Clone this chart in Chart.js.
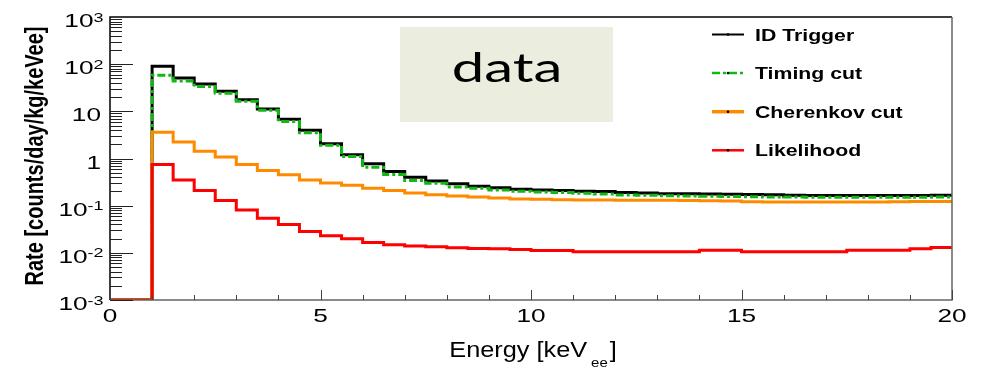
<!DOCTYPE html>
<html>
<head>
<meta charset="utf-8">
<script src="https://cdn.jsdelivr.net/npm/chart.js@4.4.1/dist/chart.umd.min.js"></script>
<style>
  html, body { margin: 0; padding: 0; background: #fff; }
  #wrap { width: 986px; height: 369px; }
</style>
</head>
<body>
<div id="wrap"><canvas id="rateChart" width="986" height="369"></canvas></div>
<script>
// Bin edges (keVee), 0.5 keV wide bins
const binEdges = [0, 0.5, 1, 1.5, 2, 2.5, 3, 3.5, 4, 4.5, 5, 5.5, 6, 6.5, 7, 7.5, 8, 8.5, 9, 9.5,
  10, 10.5, 11, 11.5, 12, 12.5, 13, 13.5, 14, 14.5, 15, 15.5, 16, 16.5, 17, 17.5, 18, 18.5, 19, 19.5, 20];

// Rates per bin [counts/day/kg/keVee]
const idTrigger = [0, 0, 90, 51, 38, 26.7, 17.5, 11.2, 6.8, 3.95, 2.05, 1.2, 0.77, 0.53, 0.4, 0.335,
  0.29, 0.257, 0.24, 0.224, 0.216, 0.209, 0.203, 0.2, 0.19, 0.185, 0.18, 0.178, 0.176, 0.174,
  0.172, 0.17, 0.166, 0.165, 0.165, 0.164, 0.165, 0.164, 0.165, 0.166];
const timingCut = [0, 0, 58, 44, 33.5, 24.3, 16.3, 10.5, 6.1, 3.5, 1.9, 1.1, 0.65, 0.46, 0.34, 0.3,
  0.25, 0.233, 0.216, 0.203, 0.195, 0.19, 0.183, 0.177, 0.169, 0.166, 0.163, 0.16, 0.158, 0.156,
  0.155, 0.153, 0.152, 0.151, 0.15, 0.15, 0.15, 0.15, 0.151, 0.152];
const cherenkovCut = [0, 0, 3.6, 2.25, 1.43, 1.07, 0.745, 0.556, 0.45, 0.352, 0.304, 0.27, 0.234, 0.209,
  0.186, 0.17, 0.16, 0.153, 0.146, 0.138, 0.136, 0.133, 0.132, 0.132, 0.131, 0.13, 0.13, 0.128,
  0.127, 0.126, 0.121, 0.12, 0.12, 0.12, 0.12, 0.12, 0.12, 0.121, 0.122, 0.123];
const likelihood = [0, 0, 0.75, 0.352, 0.209, 0.128, 0.081, 0.054, 0.0397, 0.0284, 0.023, 0.02, 0.0166,
  0.0148, 0.014, 0.0134, 0.0128, 0.0124, 0.0122, 0.0118, 0.0112, 0.0112, 0.0105, 0.0105, 0.0105,
  0.0105, 0.0105, 0.0105, 0.0114, 0.0114, 0.0105, 0.0105, 0.0105, 0.0105, 0.0105, 0.0114, 0.0114,
  0.0114, 0.0122, 0.0129];

const seriesLabels = ['ID Trigger', 'Timing cut', 'Cherenkov cut', 'Likelihood'];

// Axes
const xMin = 0, xMax = 20;
const yMin = 1e-3, yMax = 1e3;
const xTickValues = [0, 5, 10, 15, 20];
const xTickLabels = ['0', '5', '10', '15', '20'];
const yTickValues = [1e-3, 1e-2, 1e-1, 1, 10, 100, 1000];
const yTickLabels = ['10^-3', '10^-2', '10^-1', '1', '10', '10^2', '10^3'];
const xTitle = ['Energy [keV', 'ee', ']'];
const yTitle = 'Rate [counts/day/kg/keVee]';
const boxText = 'data';

const FONT = '"Liberation Sans", Arial, Helvetica, sans-serif';

// histogram -> step points (empty bins sit on the axis floor, like ROOT)
function toSteps(values) {
  const pts = [];
  for (let i = 0; i < values.length; i++) {
    const y = values[i] > 0 ? values[i] : yMin;
    pts.push({ x: binEdges[i], y: y });
    pts.push({ x: binEdges[i + 1], y: y });
  }
  return pts;
}

// the source image is stretched horizontally, so text gets an x scale
function drawText(ctx, str, x, y, font, sx, align) {
  ctx.save();
  ctx.font = font;
  ctx.translate(x, y);
  ctx.scale(sx, 1);
  ctx.textAlign = align || 'left';
  ctx.textBaseline = 'alphabetic';
  ctx.fillStyle = '#000';
  ctx.fillText(str, 0, 0);
  ctx.restore();
}
function textWidth(ctx, str, font, sx) {
  ctx.save();
  ctx.font = font;
  const w = ctx.measureText(str).width * sx;
  ctx.restore();
  return w;
}

const rootFrame = {
  id: 'rootFrame',
  afterDraw(chart) {
    const ctx = chart.ctx;
    const xs = chart.scales.x, ys = chart.scales.y;
    const a = chart.chartArea;

    // frame
    ctx.save();
    ctx.lineWidth = 1.5;
    ctx.strokeStyle = '#000';
    ctx.beginPath();
    ctx.moveTo(a.left, a.bottom); ctx.lineTo(a.left, a.top); ctx.lineTo(a.right, a.top);
    ctx.stroke();
    ctx.strokeStyle = '#666';
    ctx.beginPath();
    ctx.moveTo(a.left, a.bottom); ctx.lineTo(a.right, a.bottom); ctx.lineTo(a.right, a.top);
    ctx.stroke();

    // y ticks (major + minor, inside)
    ctx.lineWidth = 1;
    ctx.strokeStyle = '#222';
    for (let e = -3; e < 3; e++) {
      for (let k = 1; k <= 9; k++) {
        const v = k * Math.pow(10, e);
        const py = Math.round(ys.getPixelForValue(v)) + 0.5;
        const len = k === 1 ? 23 : 12;
        ctx.beginPath(); ctx.moveTo(a.left, py); ctx.lineTo(a.left + len, py); ctx.stroke();
      }
    }
    // x ticks
    ctx.strokeStyle = '#444';
    for (let v = xMin; v <= xMax; v++) {
      const px = Math.round(xs.getPixelForValue(v)) + 0.5;
      const len = v % 5 === 0 ? 10 : 5;
      ctx.beginPath(); ctx.moveTo(px, a.bottom); ctx.lineTo(px, a.bottom - len); ctx.stroke();
    }
    ctx.restore();

    // y tick labels
    const tickFont = '19px ' + FONT, supFont = '13px ' + FONT, tsx = 1.38;
    yTickValues.forEach((v, i) => {
      const py = ys.getPixelForValue(v);
      const parts = yTickLabels[i].split('^');
      if (parts.length > 1) {
        const we = textWidth(ctx, parts[1], supFont, tsx);
        const right = 103.5;
        drawText(ctx, parts[1], right - we, py + 4.5, supFont, tsx, 'left');
        drawText(ctx, parts[0], right - we, py + 10, tickFont, tsx, 'right');
      } else {
        drawText(ctx, parts[0], 101, py + 10, tickFont, tsx, 'right');
      }
    });
    // x tick labels
    xTickValues.forEach((v, i) => {
      drawText(ctx, xTickLabels[i], xs.getPixelForValue(v), a.bottom + 22, tickFont, tsx, 'center');
    });

    // x title with subscript
    const tf = '22px ' + FONT, sf = '13px ' + FONT, xsx = 1.15;
    const w0 = textWidth(ctx, xTitle[0], tf, xsx);
    const w1 = textWidth(ctx, xTitle[1], sf, xsx);
    const w2 = textWidth(ctx, xTitle[2], tf, xsx);
    const total = w0 + 4 + w1 + 2 + w2;
    let tx = (a.left + a.right) / 2 - total / 2 + 2;
    drawText(ctx, xTitle[0], tx, 357, tf, xsx); tx += w0 + 4;
    drawText(ctx, xTitle[1], tx, 367, sf, xsx); tx += w1 + 2;
    drawText(ctx, xTitle[2], tx, 357, tf, xsx);

    // y title (rotated, bold)
    ctx.save();
    ctx.translate(43, 156);
    ctx.scale(1.28, 1);
    ctx.rotate(-Math.PI / 2);
    ctx.font = 'bold 20px ' + FONT;
    ctx.textAlign = 'center';
    ctx.textBaseline = 'alphabetic';
    ctx.fillStyle = '#000';
    ctx.fillText(yTitle, 0, 0);
    ctx.restore();

    // legend
    const lf = 'bold 17px ' + FONT;
    chart.data.datasets.forEach((ds, i) => {
      const cy = 34.5 + i * 38.6;
      ctx.save();
      ctx.strokeStyle = ds.borderColor;
      ctx.lineWidth = ds.legendWidth;
      ctx.setLineDash(ds.borderDash || []);
      ctx.beginPath(); ctx.moveTo(712, cy); ctx.lineTo(744, cy); ctx.stroke();
      ctx.fillStyle = '#000';
      ctx.beginPath(); ctx.arc(728, cy, 1.3, 0, Math.PI * 2); ctx.fill();
      ctx.restore();
      drawText(ctx, ds.label, 755, cy + 6, lf, 1.25);
    });

    // "data" label box
    ctx.save();
    ctx.fillStyle = '#EBEEDF';
    ctx.fillRect(400, 27, 213, 95);
    ctx.restore();
    drawText(ctx, boxText, 507, 82, '40px Lato, "Open Sans", sans-serif', 1.45, 'center');
  }
};

const ctx = document.getElementById('rateChart').getContext('2d');
const rateChart = new Chart(ctx, {
  type: 'line',
  data: {
    datasets: [
      { label: seriesLabels[0], data: toSteps(idTrigger), borderColor: '#000000', borderWidth: 3, legendWidth: 2, order: 4 },
      { label: seriesLabels[1], data: toSteps(timingCut), borderColor: '#11B811', borderWidth: 3, borderDash: [8, 3, 3, 3], legendWidth: 2.5, order: 3 },
      { label: seriesLabels[2], data: toSteps(cherenkovCut), borderColor: '#FF8A00', borderWidth: 3, legendWidth: 3.5, order: 2 },
      { label: seriesLabels[3], data: toSteps(likelihood), borderColor: '#FF0000', borderWidth: 3, legendWidth: 2.5, order: 1 }
    ]
  },
  options: {
    responsive: false,
    animation: false,
    devicePixelRatio: 1,
    layout: { padding: { left: 110, right: 34, top: 17, bottom: 69 } },
    elements: {
      point: { radius: 0, hoverRadius: 0 },
      line: { tension: 0, fill: false, borderJoinStyle: 'miter', borderCapStyle: 'butt' }
    },
    scales: {
      x: { type: 'linear', min: xMin, max: xMax, display: false },
      y: { type: 'logarithmic', min: yMin, max: yMax, display: false }
    },
    plugins: {
      legend: { display: false },
      tooltip: { enabled: false }
    }
  },
  plugins: [rootFrame]
});
</script>
</body>
</html>
